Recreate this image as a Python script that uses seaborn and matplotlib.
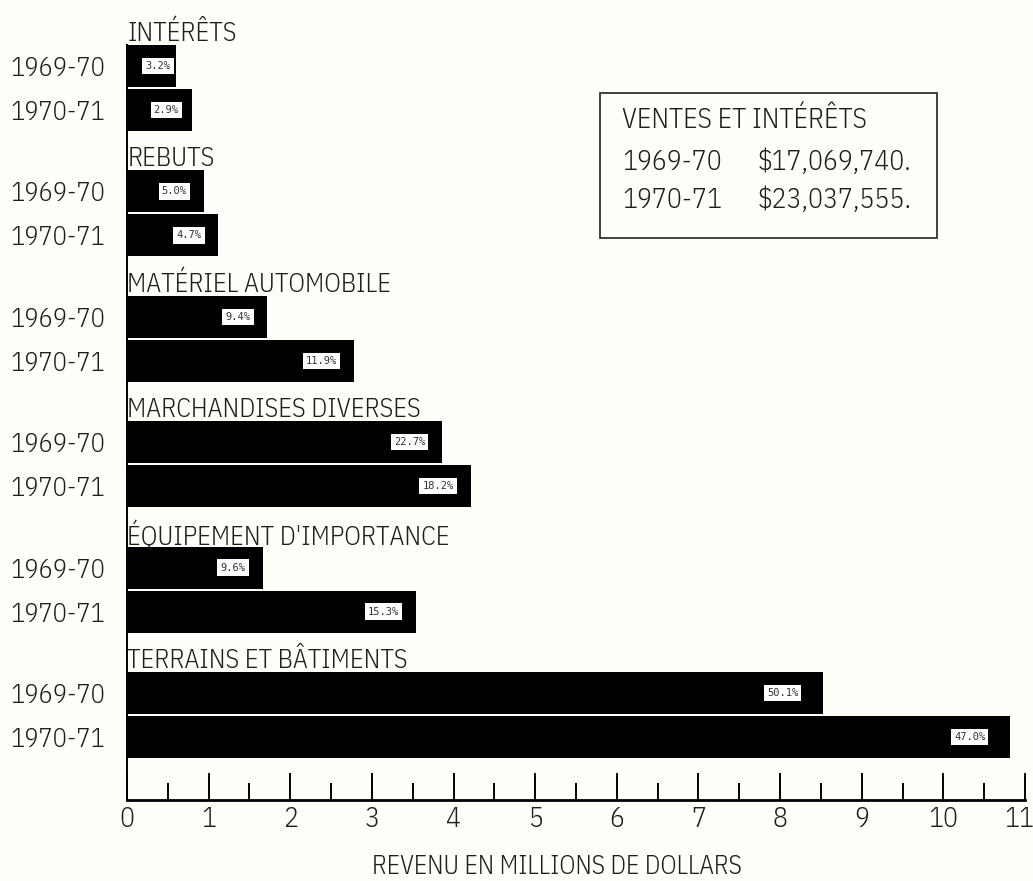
import matplotlib
matplotlib.use("Agg")
import matplotlib.pyplot as plt
from matplotlib.patches import Rectangle
import matplotlib.transforms as mtransforms
import seaborn as sns
import pandas as pd
import numpy as np

# ---- data ----
categories = ["INTÉRÊTS", "REBUTS", "MATÉRIEL AUTOMOBILE", "MARCHANDISES DIVERSES",
              "ÉQUIPEMENT D'IMPORTANCE", "TERRAINS ET BÂTIMENTS"]
years = ["1969-70", "1970-71"]
revenue_6970 = [0.60, 0.94, 1.72, 3.86, 1.66, 8.53]
revenue_7071 = [0.80, 1.12, 2.78, 4.21, 3.54, 10.82]
pct_6970 = ["3.2%", "5.0%", "9.4%", "22.7%", "9.6%", "50.1%"]
pct_7071 = ["2.9%", "4.7%", "11.9%", "18.2%", "15.3%", "47.0%"]
totals_title = "VENTES ET INTÉRÊTS"
totals = ["$17,069,740.", "$23,037,555."]
xticks = list(range(0, 12))
xlabel = "REVENU EN MILLIONS DE DOLLARS"

# ---- layout (pixel-like vertical units) ----
W, H = 1033, 881
first, group_step, bar_gap = 66.0, 125.4, 44.0
rows = []
for g, cat in enumerate(categories):
    for k, (vals, pcts) in enumerate([(revenue_6970, pct_6970), (revenue_7071, pct_7071)]):
        rows.append(dict(categorie=cat, annee=years[k], revenu=vals[g], pct=pcts[g],
                         pos=first + g * group_step + k * bar_gap))
df = pd.DataFrame(rows)

sns.set_style("white")
plt.rcParams["font.family"] = ["IBM Plex Sans Condensed", "Open Sans", "DejaVu Sans"]
plt.rcParams["font.stretch"] = "condensed"
plt.rcParams["font.weight"] = 300
TXT = dict(fontstretch="condensed", fontweight=300, color="#1e1e1e")
BG = "#fffef8"

fig = plt.figure(figsize=(W / 100, H / 100), dpi=100, facecolor=BG)
ax_left, ax_right = 127 / W, 1025 / W
ax_bottom = 1 - 800 / H
ax = fig.add_axes([ax_left, ax_bottom, ax_right - ax_left, 1 - ax_bottom])
ax.set_facecolor(BG)

sns.barplot(data=df, x="revenu", y="pos", orient="y", native_scale=True,
            color="black", saturation=1, width=42 / 44, edgecolor="none",
            linewidth=0, ax=ax)

ax.set_xlim(0, 11)
ax.set_ylim(800, 0)

# spines
for s in ["top", "right"]:
    ax.spines[s].set_visible(False)
ax.spines["left"].set_bounds(45, 800)
ax.spines["left"].set_linewidth(1.4)
ax.spines["left"].set_color("black")
ax.spines["bottom"].set_linewidth(2.0)
ax.spines["bottom"].set_color("black")

# x ticks
ax.set_xticks(xticks)
ax.set_xticklabels([str(t) for t in xticks], fontsize=20, **TXT)
ax.set_xticks(np.arange(0.5, 11, 1.0), minor=True)
ax.tick_params(axis="x", which="major", direction="in", length=19.5, width=1.4,
               color="black", pad=4, bottom=True)
ax.tick_params(axis="x", which="minor", direction="in", length=12, width=1.4,
               color="black", bottom=True)
ax.set_xlabel("")
fig.text((355 + 758) / 2 / W, 1 - 866 / H, xlabel, fontsize=18.5, ha="center",
         va="center", **TXT)

# y ticks
ax.set_yticks(df["pos"].tolist())
ax.set_yticklabels(df["annee"].tolist(), fontsize=19, **TXT)
ax.tick_params(axis="y", length=0, pad=16)
ax.set_ylabel("")

# keep the last x tick label ("11") inside the canvas
last = ax.get_xticklabels()[-1]
last.set_transform(last.get_transform() +
                   mtransforms.ScaledTranslation(-6 / 100, 0, fig.dpi_scale_trans))

# group headers
for g, cat in enumerate(categories):
    y = first + g * group_step - 33
    ax.text(0.005, y, cat, fontsize=19, ha="left", va="center", **TXT)

# percentage labels
px_per_unit = 898 / 11
for _, r in df.iterrows():
    bar_px = r["revenu"] * px_per_unit
    off = 25 if bar_px > 500 else float(np.clip((bar_px - 38) / 2, 4, 17))
    ax.annotate(r["pct"], xy=(r["revenu"], r["pos"]), xytext=(-off * 0.72, 0),
                textcoords="offset points", ha="right", va="center",
                fontsize=7.5, family="DejaVu Sans Mono", color="#333333",
                bbox=dict(boxstyle="square,pad=0.3", fc="white", ec="none"))

# totals box
bx0, by0, bx1, by1 = 600, 93, 937, 238
fig.patches.append(Rectangle((bx0 / W, 1 - by1 / H), (bx1 - bx0) / W, (by1 - by0) / H,
                             transform=fig.transFigure, fill=False, ec="#222222",
                             lw=1.2))
fig.text(622 / W, 1 - 120 / H, totals_title, fontsize=20, va="center", **TXT)
for i, (yr, tot) in enumerate(zip(years, totals)):
    yy = 1 - (162 + 38 * i) / H
    fig.text(622 / W, yy, yr, fontsize=20, va="center", **TXT)
    fig.text(758 / W, yy, tot, fontsize=20, va="center", **TXT)

fig.savefig("out.png", dpi=100, facecolor=BG)
